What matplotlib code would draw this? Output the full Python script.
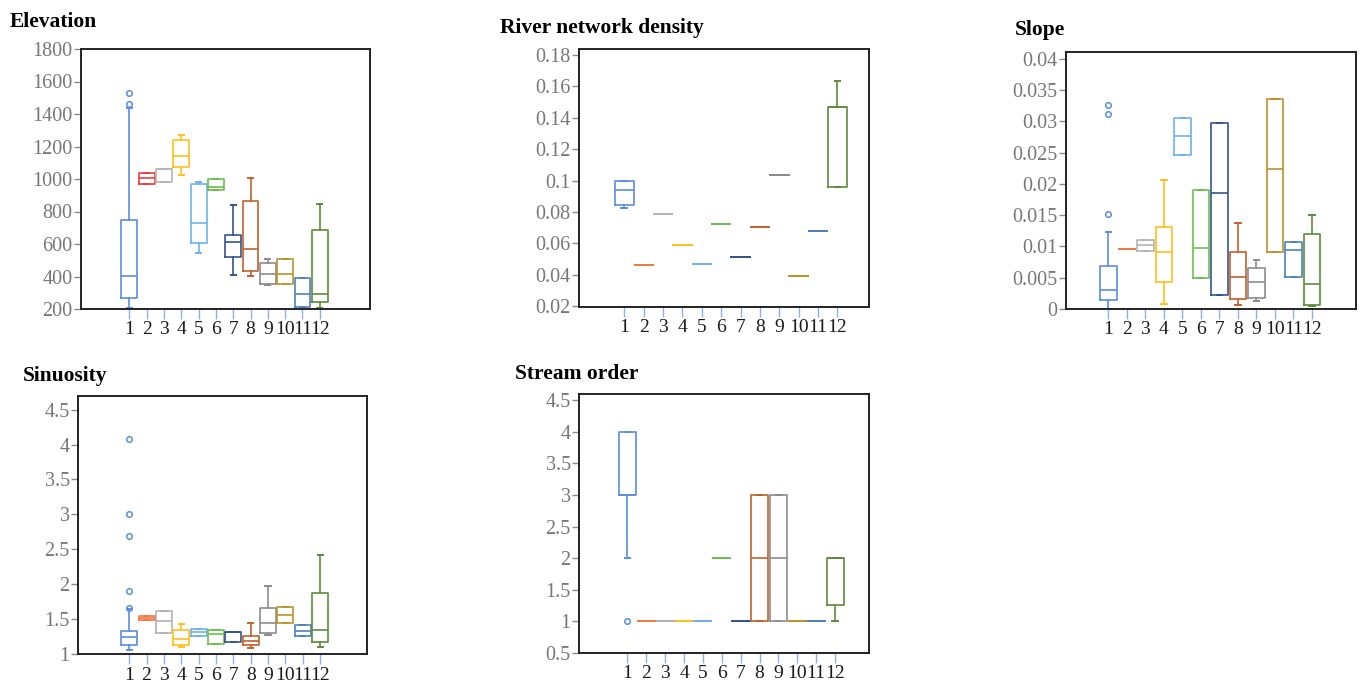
import numpy as np
import matplotlib.pyplot as plt
from matplotlib.ticker import FormatStrFormatter

plt.rcParams['font.family'] = ['Liberation Serif', 'DejaVu Serif']

groups = [str(i) for i in range(1, 13)]
palette = ['#5b8ee0', '#f07a45', '#b4b4b4', '#ffbf1f', '#6fb1ee', '#6cbf4f',
           '#35558f', '#c0622b', '#8c8c8c', '#b8962c', '#4d82bf', '#5f8a3c']
elev_palette = palette[:1] + ['#f03c3c'] + palette[2:]

# Elevation (m)
elev_q1 = [265, 972, 983, 1076, 607, 932, 520, 434, 352, 356, 212, 243]
elev_med = [405, 1005, 1060, 1142, 730, 952, 611, 572, 418, 418, 294, 294]
elev_q3 = [747, 1037, 1060, 1240, 969, 998, 658, 866, 486, 510, 393, 689]
elev_lo = [205, 972, 983, 1025, 545, 932, 407, 401, 346, 356, 212, 208]
elev_hi = [1440, 1037, 1060, 1271, 979, 998, 839, 1008, 510, 510, 393, 846]
elev_out = {1: [1530, 1460]}

# River network density
dens_q1 = [0.0846, 0.0461, 0.0784, 0.0593, 0.0468, 0.0725, 0.0517, 0.0706, 0.1035, 0.0391, 0.0682, 0.0957]
dens_med = [0.0938, 0.0461, 0.0784, 0.0593, 0.0468, 0.0725, 0.0517, 0.0706, 0.1035, 0.0391, 0.0682, 0.1465]
dens_q3 = [0.0999, 0.0461, 0.0784, 0.0593, 0.0468, 0.0725, 0.0517, 0.0706, 0.1035, 0.0391, 0.0682, 0.1465]
dens_lo = [0.0825, 0.0461, 0.0784, 0.0593, 0.0468, 0.0725, 0.0517, 0.0706, 0.1035, 0.0391, 0.0682, 0.0957]
dens_hi = [0.0999, 0.0461, 0.0784, 0.0593, 0.0468, 0.0725, 0.0517, 0.0706, 0.1035, 0.0391, 0.0682, 0.1635]
dens_out = {}

# Slope
slope_q1 = [0.00138, 0.00953, 0.00927, 0.00434, 0.02468, 0.00503, 0.00217, 0.00154, 0.0018, 0.00906, 0.00514, 0.00069]
slope_med = [0.00302, 0.00953, 0.01022, 0.00911, 0.0276, 0.0098, 0.01854, 0.00514, 0.00434, 0.0224, 0.00948, 0.00403]
slope_q3 = [0.00683, 0.00953, 0.01107, 0.01308, 0.03051, 0.01901, 0.02971, 0.00911, 0.00657, 0.03358, 0.01075, 0.01202]
slope_lo = [0.0, 0.00953, 0.00927, 0.00079, 0.02468, 0.00503, 0.00217, 0.00058, 0.00127, 0.00906, 0.00514, 0.00048]
slope_hi = [0.01239, 0.00953, 0.01107, 0.0206, 0.03051, 0.01901, 0.02971, 0.01382, 0.00789, 0.03358, 0.01075, 0.01499]
slope_out = {1: [0.03257, 0.03125, 0.01515]}

# Sinuosity
sin_q1 = [1.129, 1.481, 1.305, 1.129, 1.257, 1.148, 1.167, 1.129, 1.296, 1.439, 1.257, 1.176]
sin_med = [1.243, 1.51, 1.477, 1.21, 1.319, 1.281, 1.319, 1.191, 1.439, 1.553, 1.334, 1.338]
sin_q3 = [1.334, 1.543, 1.62, 1.338, 1.357, 1.348, 1.319, 1.257, 1.653, 1.677, 1.41, 1.877]
sin_lo = [1.062, 1.481, 1.305, 1.1, 1.257, 1.148, 1.167, 1.081, 1.272, 1.439, 1.257, 1.105]
sin_hi = [1.643, 1.543, 1.62, 1.424, 1.357, 1.348, 1.319, 1.448, 1.968, 1.677, 1.41, 2.416]
sin_out = {1: [4.074, 3.007, 2.692, 1.901, 1.663]}

# Stream order
ord_q1 = [3, 1, 1, 1, 1, 2, 1, 1, 1, 1, 1, 1.26]
ord_med = [3, 1, 1, 1, 1, 2, 1, 2, 2, 1, 1, 2]
ord_q3 = [4, 1, 1, 1, 1, 2, 1, 3, 3, 1, 1, 2]
ord_lo = [2, 1, 1, 1, 1, 2, 1, 1, 1, 1, 1, 1]
ord_hi = [4, 1, 1, 1, 1, 2, 1, 3, 3, 1, 1, 2]
ord_out = {1: [1]}

W, H = 1360, 684
fig = plt.figure(figsize=(W / 100, H / 100), dpi=100)


def px_rect(x0, y0, x1, y1):
    return [x0 / W, 1 - y1 / H, (x1 - x0) / W, (y1 - y0) / H]


def draw_panel(box, title, tpos, q1, med, q3, lo, hi, out, yticks, ylim, xlim,
               width, colors):
    ax = fig.add_axes(px_rect(*box))
    stats = []
    for i in range(len(groups)):
        stats.append(dict(q1=q1[i], med=med[i], q3=q3[i], whislo=lo[i],
                          whishi=hi[i], fliers=out.get(i + 1, [])))
    pos = np.arange(1, len(groups) + 1)
    art = ax.bxp(stats, positions=pos, widths=width, capwidths=0.3,
                 manage_ticks=False)
    for i, c in enumerate(colors):
        art['boxes'][i].set(color=c, lw=1.2)
        art['medians'][i].set(color=c, lw=1.2)
        for k in (2 * i, 2 * i + 1):
            art['whiskers'][k].set(color=c, lw=1.2)
            art['caps'][k].set(color=c, lw=1.4)
        art['fliers'][i].set(marker='o', markerfacecolor='none',
                             markeredgecolor=c, markersize=4, mew=1.1)

    ax.set_xlim(*xlim)
    ax.set_ylim(*ylim)
    ax.set_xticks(pos)
    ax.set_xticklabels(groups)
    ax.set_yticks(yticks)
    ax.yaxis.set_major_formatter(FormatStrFormatter('%g'))
    ax.tick_params(axis='x', colors='#8fb0e6', length=7, width=1, pad=2,
                   labelsize=14, labelcolor='#1a1a1a')
    ax.tick_params(axis='y', colors='#8a8a8a', length=5, width=1, pad=1,
                   labelsize=14.5, labelcolor='#777777')
    for s in ax.spines.values():
        s.set_color('#222222')
        s.set_linewidth(1.4)
    fig.text(tpos[0] / W, 1 - tpos[1] / H, title, fontsize=15.5,
             fontweight='bold', va='baseline', ha='left')
    return ax


draw_panel((81, 49, 370, 309), 'Elevation', (10, 27),
           elev_q1, elev_med, elev_q3, elev_lo, elev_hi, elev_out,
           np.arange(200, 1801, 200), (200, 1800), (-1.79, 14.9), 0.92,
           elev_palette)

draw_panel((579, 49, 869, 307), 'River network density', (500, 33),
           dens_q1, dens_med, dens_q3, dens_lo, dens_hi, dens_out,
           np.round(np.arange(0.02, 0.181, 0.02), 2), (0.0196, 0.1836),
           (-1.34, 13.63), 0.95, palette)

draw_panel((1066, 52, 1356, 309), 'Slope', (1015, 35),
           slope_q1, slope_med, slope_q3, slope_lo, slope_hi, slope_out,
           np.round(np.arange(0, 0.0401, 0.005), 3), (0, 0.0411),
           (-1.29, 14.38), 0.9, palette)

draw_panel((78, 396, 367, 654), 'Sinuosity', (23, 381),
           sin_q1, sin_med, sin_q3, sin_lo, sin_hi, sin_out,
           np.arange(1, 4.51, 0.5), (1.0, 4.695), (-1.95, 14.7), 0.92,
           palette)

draw_panel((579, 394, 869, 653), 'Stream order', (515, 379),
           ord_q1, ord_med, ord_q3, ord_lo, ord_hi, ord_out,
           np.arange(0.5, 4.51, 0.5), (0.51, 4.6), (-1.57, 13.8), 0.9,
           palette)

fig.savefig('out.png', dpi=100)
